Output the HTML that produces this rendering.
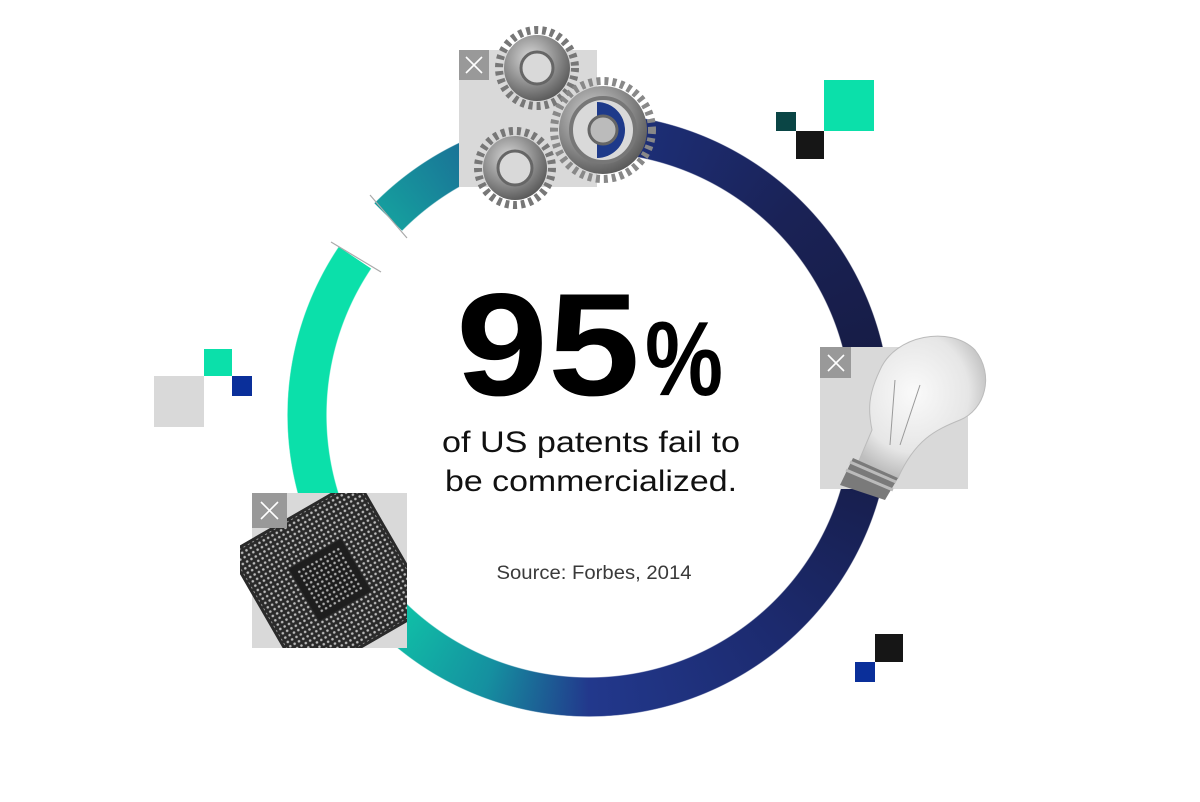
<!DOCTYPE html>
<html><head><meta charset="utf-8"><style>
html,body{margin:0;padding:0;background:#fff;}
svg{display:block;position:absolute;left:0;top:0;}
#ring{position:absolute;left:287px;top:113px;width:604px;height:604px;border-radius:50%;
background:conic-gradient(from 309deg,#14aaa0 0deg,#1e4a90 45deg,#1d2f78 60deg,#1a2256 96deg,#151a40 141deg,#1c2a6e 190deg,#22388c 231deg,#1590a0 252deg,#0fc8a8 278deg,#0be0aa 305deg,#0be0aa 360deg);
-webkit-mask:radial-gradient(circle,transparent 262px,#000 263px,#000 301px,transparent 302px);
mask:radial-gradient(circle,transparent 262px,#000 263px,#000 301px,transparent 302px);}
</style></head><body>
<div id="ring"></div>
<svg width="1200" height="802" viewBox="0 0 1200 802" xmlns="http://www.w3.org/2000/svg">
<defs>
<radialGradient id="metal" cx="0.4" cy="0.35" r="0.7">
<stop offset="0" stop-color="#d8d8d8"/><stop offset="0.6" stop-color="#8a8a8a"/><stop offset="1" stop-color="#555"/>
</radialGradient>
<radialGradient id="glass" cx="0.45" cy="0.4" r="0.6">
<stop offset="0" stop-color="#fafafa"/><stop offset="0.7" stop-color="#e6e6e6"/><stop offset="1" stop-color="#bdbdbd"/>
</radialGradient>
<pattern id="dots" width="5" height="5" patternUnits="userSpaceOnUse"><circle cx="2.5" cy="2.5" r="1.3" fill="#bbb"/></pattern>
<clipPath id="chipclip"><rect x="240" y="493" width="167" height="155"/></clipPath>
</defs>

<polygon points="589,415 331.7,242.1 368.3,197.3" fill="#fff"/>
<line x1="370" y1="195" x2="407" y2="238" stroke="#aaa" stroke-width="1.2"/>
<line x1="331" y1="242" x2="381" y2="272" stroke="#aaa" stroke-width="1.2"/>

<rect x="824" y="80" width="50" height="51" fill="#0be0aa"/>
<rect x="776" y="112" width="20" height="19" fill="#0a4545"/>
<rect x="796" y="131" width="28" height="28" fill="#161616"/>
<rect x="154" y="376" width="50" height="51" fill="#d9d9d9"/>
<rect x="204" y="349" width="28" height="27" fill="#0be0aa"/>
<rect x="232" y="376" width="20" height="20" fill="#0a2f9a"/>
<rect x="875" y="634" width="28" height="28" fill="#161616"/>
<rect x="855" y="662" width="20" height="20" fill="#0a2f9a"/>

<rect x="459" y="50" width="138" height="137" fill="#d9d9d9"/>
<g>
<circle cx="537" cy="68" r="38" fill="none" stroke="#777" stroke-width="8" stroke-dasharray="4 4"/>
<circle cx="537" cy="68" r="33" fill="url(#metal)"/>
<circle cx="537" cy="68" r="16" fill="#d9d9d9" stroke="#666" stroke-width="3"/>
<circle cx="515" cy="168" r="37" fill="none" stroke="#777" stroke-width="8" stroke-dasharray="4 4"/>
<circle cx="515" cy="168" r="32" fill="url(#metal)"/>
<circle cx="515" cy="168" r="17" fill="#d9d9d9" stroke="#666" stroke-width="3"/>
<circle cx="603" cy="130" r="49" fill="none" stroke="#888" stroke-width="8" stroke-dasharray="4 4"/>
<circle cx="603" cy="130" r="44" fill="url(#metal)"/>
<circle cx="603" cy="130" r="32" fill="#d9d9d9" stroke="#777" stroke-width="4"/>
<path d="M597,102 A28,28 0 0 1 597,158 Z" fill="#1e3a8a"/>
<circle cx="603" cy="130" r="14" fill="#bbb" stroke="#666" stroke-width="3"/>
</g>
<rect x="459" y="50" width="30" height="30" fill="#999"/>
<path d="M466,57 L482,73 M482,57 L466,73" stroke="#fff" stroke-width="1.6"/>

<rect x="820" y="347" width="148" height="142" fill="#d9d9d9"/>
<g>
<path d="M855,470 L872,430 C868,410 868,395 880,370 C895,335 950,325 975,350 C995,375 985,410 960,420 C935,430 915,440 898,478 Z" fill="url(#glass)" stroke="#bbb" stroke-width="1"/>
<path d="M840,485 L853,458 L898,478 L885,500 Z" fill="#7a7a7a"/>
<path d="M846,470 L893,490 M850,462 L896,482" stroke="#bbb" stroke-width="3"/>
<path d="M890,445 L895,380 M900,445 L920,385" stroke="#999" stroke-width="1"/>
</g>
<rect x="820" y="347" width="31" height="31" fill="#999"/>
<path d="M828,355 L844,371 M844,355 L828,371" stroke="#fff" stroke-width="1.6"/>

<rect x="252" y="493" width="155" height="155" fill="#d9d9d9"/>
<g clip-path="url(#chipclip)">
<g transform="rotate(-30 330 580)">
<rect x="255" y="505" width="150" height="150" fill="#2a2a2a"/>
<rect x="258" y="508" width="144" height="144" fill="url(#dots)"/>
<rect x="300" y="550" width="60" height="60" fill="#1e1e1e"/>
<rect x="306" y="556" width="48" height="48" fill="url(#dots)" opacity="0.9"/>
</g>
</g>
<rect x="252" y="493" width="35" height="35" fill="#999"/>
<path d="M261,502 L278,519 M278,502 L261,519" stroke="#fff" stroke-width="1.6"/>

<text x="456" y="395" font-family="Liberation Sans, sans-serif" font-weight="bold" font-size="146" textLength="184" lengthAdjust="spacingAndGlyphs" fill="#000">95</text>
<text x="645" y="395" font-family="Liberation Sans, sans-serif" font-weight="bold" font-size="106" textLength="78" lengthAdjust="spacingAndGlyphs" fill="#000">%</text>
<text x="591" y="452" text-anchor="middle" font-family="Liberation Sans, sans-serif" font-size="30" textLength="298" lengthAdjust="spacingAndGlyphs" fill="#111">of US patents fail to</text>
<text x="591" y="491" text-anchor="middle" font-family="Liberation Sans, sans-serif" font-size="30" textLength="292" lengthAdjust="spacingAndGlyphs" fill="#111">be commercialized.</text>
<text x="594" y="579" text-anchor="middle" font-family="Liberation Sans, sans-serif" font-size="19" textLength="195" lengthAdjust="spacingAndGlyphs" fill="#3a3a3a">Source: Forbes, 2014</text>
</svg>
</body></html>
